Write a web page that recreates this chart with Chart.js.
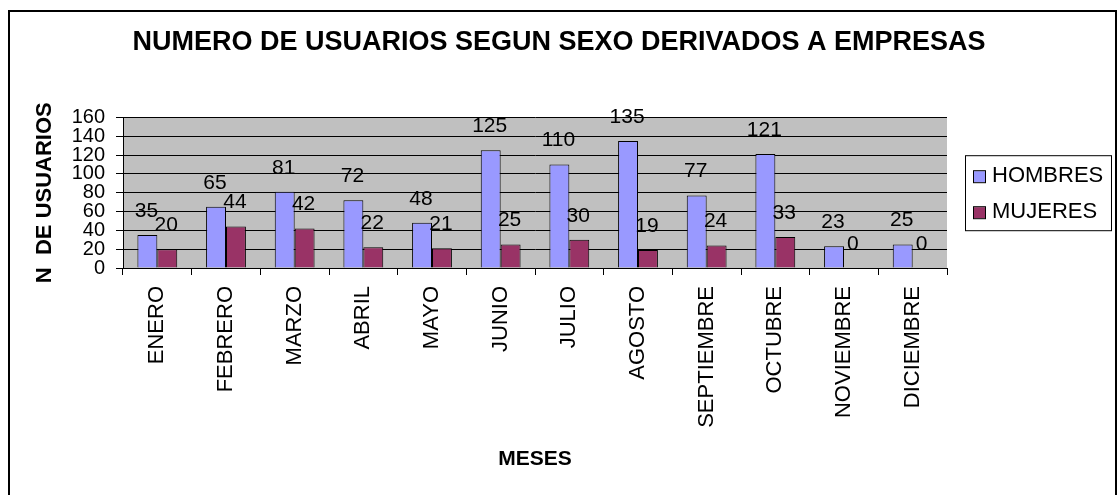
<!DOCTYPE html>
<html>
<head>
<meta charset="utf-8">
<script src="https://cdn.jsdelivr.net/npm/chart.js@4.4.0/dist/chart.umd.min.js"></script>
<style>
    html, body { margin: 0; padding: 0; background: #fff; overflow: hidden; }
</style>
</head>
<body>
<canvas id="graficoUsuarios" width="1118" height="495"></canvas>
<script>
var meses = ['ENERO', 'FEBRERO', 'MARZO', 'ABRIL', 'MAYO', 'JUNIO', 'JULIO', 'AGOSTO', 'SEPTIEMBRE', 'OCTUBRE', 'NOVIEMBRE', 'DICIEMBRE'];
var hombres = [35, 65, 81, 72, 48, 125, 110, 135, 77, 121, 23, 25];
var mujeres = [20, 44, 42, 22, 21, 25, 30, 19, 24, 33, 0, 0];
var ticksY = [0, 20, 40, 60, 80, 100, 120, 140, 160];

var fuente = 'Arial, "Liberation Sans", sans-serif';

// fondo gris del area, borde exterior y leyenda con recuadro
var pluginFondo = {
    id: 'fondo',
    beforeDraw: function(chart) {
        var ctx = chart.ctx;
        var area = chart.chartArea;
        ctx.save();
        ctx.fillStyle = '#ffffff';
        ctx.fillRect(0, 0, chart.width, chart.height);
        ctx.fillStyle = '#c0c0c0';
        ctx.fillRect(area.left, area.top, area.right - area.left, area.bottom - area.top);
        ctx.restore();
    },
    afterDraw: function(chart) {
        var ctx = chart.ctx;
        var area = chart.chartArea;
        ctx.save();
        ctx.strokeStyle = '#000';
        ctx.lineWidth = 2;
        ctx.strokeRect(9, 11, chart.width - 11, chart.height + 20);

        // leyenda
        var datasets = chart.data.datasets;
        var lx = area.right + 18;
        var lw = 146;
        var lh = 75;
        var ly = (area.top + area.bottom) / 2 - lh / 2;
        ctx.lineWidth = 1;
        ctx.fillStyle = '#fff';
        ctx.fillRect(lx, ly, lw, lh);
        ctx.strokeRect(lx + 0.5, ly + 0.5, lw, lh);
        ctx.font = '22px ' + fuente;
        ctx.textBaseline = 'middle';
        ctx.textAlign = 'left';
        datasets.forEach(function(ds, i) {
            var cy = ly + 21 + i * 36;
            ctx.fillStyle = ds.backgroundColor;
            ctx.fillRect(lx + 9, cy - 5, 11, 11);
            ctx.strokeStyle = '#000';
            ctx.strokeRect(lx + 8.5, cy - 5.5, 12, 12);
            ctx.fillStyle = '#000';
            ctx.fillText(ds.label, lx + 27, cy);
        });
        ctx.restore();
    },
    afterDatasetsDraw: function(chart) {
        var ctx = chart.ctx;
        ctx.save();
        ctx.font = '21px ' + fuente;
        ctx.fillStyle = '#000';
        ctx.textAlign = 'center';
        ctx.textBaseline = 'middle';
        chart.data.datasets.forEach(function(ds, i) {
            var meta = chart.getDatasetMeta(i);
            meta.data.forEach(function(barra, j) {
                ctx.fillText(String(ds.data[j]), barra.x - 1, barra.y - 24);
            });
        });
        ctx.restore();
    }
};

var contexto = document.getElementById('graficoUsuarios').getContext('2d');

new Chart(contexto, {
    type: 'bar',
    data: {
        labels: meses,
        datasets: [
            {
                label: 'HOMBRES',
                data: hombres,
                backgroundColor: '#9999ff',
                borderColor: '#000',
                borderWidth: 1,
                categoryPercentage: 0.58,
                barPercentage: 1
            },
            {
                label: 'MUJERES',
                data: mujeres,
                backgroundColor: '#993366',
                borderColor: '#000',
                borderWidth: 1,
                categoryPercentage: 0.58,
                barPercentage: 1
            }
        ]
    },
    options: {
        responsive: false,
        animation: false,
        layout: {
            padding: { left: 32, right: 32, top: 10, bottom: 23 }
        },
        plugins: {
            legend: { display: false },
            tooltip: { enabled: false },
            title: {
                display: true,
                text: 'NUMERO DE USUARIOS SEGUN SEXO DERIVADOS A EMPRESAS',
                color: '#000',
                font: { size: 27, weight: 'bold', family: fuente },
                padding: { top: 16, bottom: 59 }
            }
        },
        scales: {
            x: {
                afterFit: function(scale) { scale.height = 204; },
                grid: {
                    offset: true,
                    drawOnChartArea: false,
                    drawTicks: true,
                    tickLength: 7,
                    color: '#000'
                },
                border: { color: '#000' },
                ticks: {
                    color: '#000',
                    autoSkip: false,
                    minRotation: 90,
                    maxRotation: 90,
                    padding: 11,
                    font: { size: 22, family: fuente }
                },
                title: {
                    display: true,
                    text: 'MESES',
                    color: '#000',
                    padding: 0,
                    font: { size: 21, weight: 'bold', family: fuente }
                }
            },
            y: {
                min: 0,
                max: 160,
                afterFit: function(scale) { scale.width = 91; },
                afterBuildTicks: function(scale) {
                    scale.ticks = ticksY.map(function(v) { return { value: v }; });
                },
                grid: {
                    color: '#000',
                    tickLength: 7
                },
                border: { color: '#000' },
                ticks: {
                    color: '#000',
                    autoSkip: false,
                    padding: 11,
                    font: { size: 20, family: fuente, lineHeight: 0.9 }
                },
                title: {
                    display: true,
                    text: 'N  DE USUARIOS',
                    color: '#000',
                    padding: 0,
                    font: { size: 22, weight: 'bold', family: fuente }
                }
            },
            // espacio a la derecha reservado para la leyenda
            espacioLeyenda: {
                type: 'linear',
                position: 'right',
                afterFit: function(scale) { scale.width = 139; },
                grid: { display: false },
                border: { display: false },
                ticks: { display: false }
            }
        }
    },
    plugins: [pluginFondo]
});
</script>
</body>
</html>
